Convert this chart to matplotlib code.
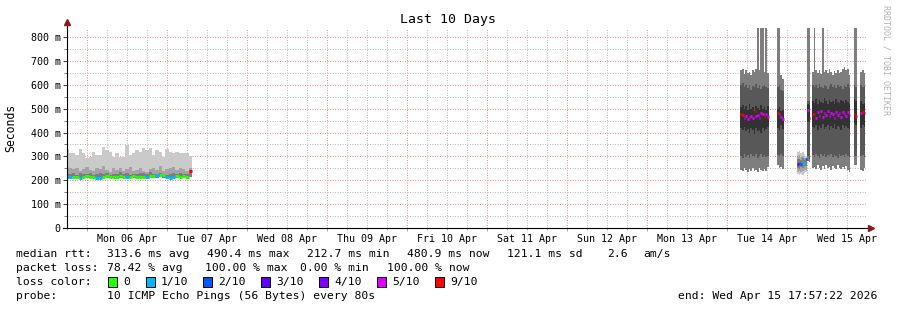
"""
SmokePing style latency graph, last 10 days.
Smoke bands = spread of the 10 pings, coloured line = median rtt by packet loss.
"""

import numpy as np
import matplotlib
matplotlib.use("Agg")
import matplotlib.pyplot as plt
import matplotlib.dates as mdates
from matplotlib.patches import Rectangle
from datetime import datetime, timedelta

nan = np.nan

# --- time frame ---
END = datetime(2026, 4, 15, 17, 57, 22)
START = END - timedelta(days=10)

# --- loss colours (smokeping defaults for 10 pings) ---
LOSS_KEYS = [0, 1, 2, 3, 4, 5, 9]
LOSS_LABELS = ["0", "1/10", "2/10", "3/10", "4/10", "5/10", "9/10"]
LOSS_COLORS = ["#26ff00", "#00b8ff", "#0059ff", "#5e00ff", "#7e00ff", "#dd00ff", "#ff0000"]

# ================================================================
# Data (ms).  Times are hours after START.
# ================================================================
# Block 1: Apr 05 evening -> Apr 07 morning, one value per hour
LEFT_T0, LEFT_STEP = -0.5, 1.0
LEFT_MAX = [331, 313, 316, 306, 329, 313, 292, 299, 320, 306, 306, 341, 327, 320, 299, 313, 299, 299, 348,
            306, 313, 327, 320, 334, 327, 334, 306, 327, 320, 299, 329, 320, 313, 320, 316, 316, 313, 300]
LEFT_P2 = [255, 250, 246, 252, 240, 248, 256, 244, 238, 250, 246, 258, 242, 236, 250, 244, 252, 240, 246,
           254, 238, 244, 250, 240, 236, 246, 252, 244, 258, 240, 248, 250, 256, 244, 250, 246, 240, 250]
LEFT_P3 = [228, 226, 230, 224, 232, 226, 228, 230, 224, 226, 232, 228, 230, 224, 226, 228, 234, 226, 230,
           224, 228, 226, 232, 230, 228, 234, 226, 228, 230, 226, 224, 228, 232, 226, 230, 228, 226, 245]
LEFT_MIN = [210, 211, 212, 210, 209, 211, 212, 211, 210, 208, 209, 211, 212, 211, 210, 212, 211, 210, 208,
            211, 212, 211, 210, 211, 209, 212, 211, 210, 212, 211, 209, 208, 210, 211, 212, 211, 212, 215]
LEFT_MED = [213, 212, 215, 214, 211, 215, 216, 215, 214, 211, 210, 215, 216, 215, 214, 215, 216, 215, 212,
            215, 216, 215, 214, 215, 213, 216, 217, 222, 222, 220, 212, 211, 212, 216, 215, 216, 215, 238]
LEFT_LOSS = [1, 1, 0, 0, 1, 0, 0, 0, 0, 1, 1, 0, 0, 0, 0, 0, 0, 0, 1,
             0, 0, 0, 0, 0, 1, 0, 0, 1, 0, 0, 1, 1, 1, 0, 0, 0, 0, 9]

# Low block late on Apr 14, half-hour values
MID_T0, MID_STEP = 219.0, 0.5
MID_MAX = [318, 322, 315, 320, 312, 300]
MID_P2_HI = [300, 305, 298, 302, 295, 290]
MID_P3_HI = [290, 288, 286, 292, 284, 282]
MID_P3_LO = [252, 248, 255, 250, 258, 260]
MID_P2_LO = [236, 240, 234, 238, 242, 245]
MID_MIN = [225, 222, 228, 224, 230, 235]
MID_MED = [270, 272, 270, 268, 272, 290]
MID_LOSS = [3, 2, 2, 1, 1, 2]

# Apr 14 / Apr 15 high-loss blocks, half-hour values (900 = above the graph)
RIGHT_T0, RIGHT_STEP = 202.0, 0.5
R_OUT_HI = [660, 668, 645, 662, 650, 655, 640, 660, 652, 665, 900, 660, 900, 900, 655, 900, 648,
            nan, nan, nan, nan, nan,
            900, 900, 640, 625,
            nan, nan, nan, nan, nan, nan, nan, nan, nan, nan, nan, nan, nan, nan,
            900, 900,
            nan,
            655, 900, 660, 650, 662, 645, 900, 652, 660, 648, 665, 655, 642, 658, 650, 662, 648, 655,
            668, 675, 660, 665, 640,
            nan, nan,
            900, 900,
            nan, nan,
            655, 660, 650,
            nan]
R_OUT_LO = [245, 238, 250, 242, 236, 248, 240, 252, 238, 244, 236, 250, 242, 238, 246, 240, 255,
            nan, nan, nan, nan, nan,
            262, 250, 255, 248,
            nan, nan, nan, nan, nan, nan, nan, nan, nan, nan, nan, nan, nan, nan,
            280, 276,
            nan,
            250, 255, 246, 262, 252, 244, 258, 248, 265, 250, 256, 245, 260, 252, 248, 262, 250, 246,
            255, 248, 258, 244, 236,
            nan, nan,
            265, 262,
            nan, nan,
            245, 240, 250,
            nan]
R_MID_HI = [600, 606, 592, 598, 585, 600, 580, 596, 590, 604, 588, 598, 584, 594, 600, 590, 586,
            nan, nan, nan, nan, nan,
            590, 600, 580, 575,
            nan, nan, nan, nan, nan, nan, nan, nan, nan, nan, nan, nan, nan, nan,
            530, 530,
            nan,
            600, 590, 598, 585, 604, 592, 588, 600, 596, 582, 594, 605, 590, 598, 586, 600, 592, 595,
            584, 598, 590, 602, 588,
            nan, nan,
            600, 590,
            nan, nan,
            600, 590, 595,
            nan]
R_MID_LO = [300, 295, 310, 298, 305, 292, 312, 300, 296, 308, 294, 302, 310, 298, 304, 296, 300,
            nan, nan, nan, nan, nan,
            305, 300, 310, 300,
            nan, nan, nan, nan, nan, nan, nan, nan, nan, nan, nan, nan, nan, nan,
            300, 290,
            nan,
            305, 298, 310, 300, 295, 312, 302, 308, 296, 304, 300, 310, 298, 306, 302, 295, 308, 300,
            304, 298, 310, 300, 296,
            nan, nan,
            300, 300,
            nan, nan,
            300, 305, 298,
            nan]
R_IN_HI = [505, 515, 498, 510, 495, 520, 500, 508, 490, 512, 502, 496, 515, 500, 506, 494, 510,
           nan, nan, nan, nan, nan,
           500, 505, 490, 495,
           nan, nan, nan, nan, nan, nan, nan, nan, nan, nan, nan, nan, nan, nan,
           520, 515,
           nan,
           530, 525, 540, 520, 535, 528, 522, 545, 530, 518, 538, 526, 532, 520, 540, 528, 524, 535,
           530, 522, 538, 528, 520,
           nan, nan,
           540, 530,
           nan, nan,
           530, 520, 525,
           nan]
R_IN_LO = [420, 410, 425, 405, 415, 400, 420, 410, 395, 418, 405, 412, 400, 420, 408, 415, 425,
           nan, nan, nan, nan, nan,
           420, 410, 430, 415,
           nan, nan, nan, nan, nan, nan, nan, nan, nan, nan, nan, nan, nan, nan,
           445, 450,
           nan,
           425, 418, 432, 410, 428, 420, 436, 415, 424, 430, 412, 426, 420, 434, 416, 428, 422, 410,
           430, 420, 426, 418, 415,
           nan, nan,
           440, 430,
           nan, nan,
           420, 430, 425,
           nan]
R_MED = [478, 472, 462, 468, 458, 466, 470, 460, 492, 468, 474, 462, 480, 476, 470, 478, 466,
         nan, nan, nan, nan, nan,
         480, 476, 466, 456,
         nan, nan, nan, nan, nan, nan, nan, nan, nan, nan, nan, nan, nan, nan,
         496, 460,
         nan,
         476, 478, 462, 484, 470, 488, 464, 480, 472, 490, 468, 482, 476, 460, 486, 474, 480, 466,
         484, 478, 470, 486, 472,
         nan, nan,
         478, 470,
         nan, nan,
         480, 485, 482,
         nan]
R_LOSS = [9, 9, 5, 5, 5, 5, 5, 5, 9, 5, 5, 5, 5, 5, 9, 5, 5,
          nan, nan, nan, nan, nan,
          9, 5, 5, 5,
          nan, nan, nan, nan, nan, nan, nan, nan, nan, nan, nan, nan, nan, nan,
          5, 9,
          nan,
          9, 9, 5, 5, 5, 5, 5, 5, 5, 5, 5, 5, 5, 5, 5, 5, 5, 5,
          5, 5, 5, 5, 5,
          nan, nan,
          9, 9,
          nan, nan,
          5, 9, 9,
          nan]

# ================================================================
# Figure
# ================================================================
plt.rcParams["font.family"] = "DejaVu Sans Mono"

W, H = 897, 310
fig = plt.figure(figsize=(W / 100, H / 100), dpi=100)
fig.patch.set_facecolor("white")
ax = fig.add_axes([67 / W, 82 / H, 800 / W, 200 / H])

X0 = mdates.date2num(START)


def hx(hours):
    return X0 + np.asarray(hours, dtype=float) / 24.0


def smoke(t0, step, lo, hi, color):
    # one filled step area per run of valid values
    lo = np.asarray(lo, dtype=float)
    hi = np.asarray(hi, dtype=float)
    edges = hx(t0 + step * np.arange(len(hi) + 1))
    ok = ~np.isnan(lo) & ~np.isnan(hi)
    i = 0
    while i < len(hi):
        if not ok[i]:
            i += 1
            continue
        j = i
        while j < len(hi) and ok[j]:
            j += 1
        ax.fill_between(edges[i:j + 1], np.r_[lo[i:j], lo[j - 1]], np.r_[hi[i:j], hi[j - 1]],
                        step="post", color=color, linewidth=0, zorder=1)
        i = j


def median(t0, step, med, loss, lw):
    med = np.asarray(med, dtype=float)
    loss = np.asarray(loss, dtype=float)
    t = hx(t0 + step * np.arange(len(med)))
    for key, col in zip(LOSS_KEYS, LOSS_COLORS):
        sel = (loss == key) & ~np.isnan(med)
        if sel.any():
            ax.hlines(med[sel], t[sel], t[sel] + step / 24.0, colors=col, linewidth=lw, zorder=2)


# left block
smoke(LEFT_T0, LEFT_STEP, LEFT_MIN, LEFT_MAX, "#cacaca")
smoke(LEFT_T0, LEFT_STEP, LEFT_MIN, LEFT_P2, "#a4a4a4")
smoke(LEFT_T0, LEFT_STEP, LEFT_MIN, LEFT_P3, "#7e7e7e")
median(LEFT_T0, LEFT_STEP, LEFT_MED, LEFT_LOSS, 2.2)

# low block
smoke(MID_T0, MID_STEP, MID_MIN, MID_MAX, "#cacaca")
smoke(MID_T0, MID_STEP, MID_P2_LO, MID_P2_HI, "#a4a4a4")
smoke(MID_T0, MID_STEP, MID_P3_LO, MID_P3_HI, "#7e7e7e")
median(MID_T0, MID_STEP, MID_MED, MID_LOSS, 2.0)

# high-loss blocks
smoke(RIGHT_T0, RIGHT_STEP, R_OUT_LO, R_OUT_HI, "#7e7e7e")
smoke(RIGHT_T0, RIGHT_STEP, R_MID_LO, R_MID_HI, "#585858")
smoke(RIGHT_T0, RIGHT_STEP, R_IN_LO, R_IN_HI, "#323232")
median(RIGHT_T0, RIGHT_STEP, R_MED, R_LOSS, 2.0)

# --- axes ---
ax.set_xlim(X0, mdates.date2num(END))
ax.set_ylim(0, 837.7)
for s in ax.spines.values():
    s.set_visible(False)

ax.xaxis.set_major_locator(mdates.DayLocator())
ax.xaxis.set_minor_locator(mdates.HourLocator(byhour=[6, 12, 18]))
ax.xaxis.set_major_formatter(plt.NullFormatter())


def day_label(x, pos):
    hour = int(round((x % 1) * 24)) % 24
    if hour != 12:
        return ""
    return mdates.num2date(x).strftime("%a %d %b")


ax.xaxis.set_minor_formatter(plt.FuncFormatter(day_label))
ax.yaxis.set_major_locator(plt.MultipleLocator(100))
ax.yaxis.set_minor_locator(plt.MultipleLocator(50))
ax.yaxis.set_major_formatter(plt.FuncFormatter(lambda v, _: "0" if v == 0 else f"{v:.0f} m"))

# dotted grid behind the smoke
ax.set_axisbelow(True)
ax.grid(True, which="major", color="#f29090", linestyle=(0, (1, 1.5)), linewidth=0.72)
ax.grid(True, which="minor", color="#bcbcbc", linestyle=(0, (1, 1.5)), linewidth=0.72)

ax.tick_params(axis="x", which="major", direction="out", length=2, color="#ff8080", width=0.75)
ax.tick_params(axis="x", which="minor", direction="out", length=1.5, color="#b0b0b0", width=0.75,
               labelsize=7.2, pad=3)
ax.tick_params(axis="y", which="major", direction="out", length=3, color="#404040", width=0.75,
               labelsize=7.2, pad=1.5)
ax.tick_params(axis="y", which="minor", direction="out", length=2, color="#808080", width=0.75)

# axis lines with arrows
ax.plot([0, 0], [0, 1.025], transform=ax.transAxes, color="black", lw=0.8, clip_on=False, zorder=4)
ax.plot([-0.005, 1.004], [0, 0], transform=ax.transAxes, color="black", lw=0.8, clip_on=False, zorder=4)
ax.plot([0], [1.03], marker="^", ms=4, color="#8b1a1a", transform=ax.transAxes, clip_on=False, zorder=5)
ax.plot([1.0056], [0], marker=">", ms=4, color="#8b1a1a", transform=ax.transAxes, clip_on=False, zorder=5)

ax.set_ylabel("Seconds", fontsize=8.3)
ax.yaxis.set_label_coords(-50 / 800, 0.5)


# --- title, watermark, legend (placed in pixel units) ---
def ftext(x, y, s, **kw):
    kw.setdefault("fontsize", 8.2)
    kw.setdefault("va", "center")
    fig.text(x / W, 1 - y / H, s, **kw)


ftext(448, 19, "Last 10 Days", ha="center", fontsize=9.5)
ftext(886, 60, "RRDTOOL / TOBI OETIKER", ha="center", rotation=270, color="#b4b4b4", fontsize=6)

ftext(16, 254, "median rtt:")
for x, s in zip([107, 207, 307, 407, 507, 607, 643],
                ["313.6 ms avg", "490.4 ms max", "212.7 ms min", "480.9 ms now", "121.1 ms sd", "2.6", "am/s"]):
    ftext(x, 254, s)

ftext(16, 268, "packet loss:")
for x, s in zip([107, 205, 300, 387], ["78.42 % avg", "100.00 % max", "0.00 % min", "100.00 % now"]):
    ftext(x, 268, s)

ftext(16, 282, "loss color:")
box_x = [108, 146, 203, 261, 319, 377, 435]
for bx, lab, col in zip(box_x, LOSS_LABELS, LOSS_COLORS):
    fig.add_artist(Rectangle((bx / W, 1 - 287 / H), 9 / W, 10 / H, transform=fig.transFigure,
                             facecolor=col, edgecolor="black", linewidth=0.7))
    ftext(bx + 15, 282, lab)

ftext(16, 296, "probe:")
ftext(107, 296, "10 ICMP Echo Pings (56 Bytes) every 80s")
ftext(678, 296, "end: Wed Apr 15 17:57:22 2026")

fig.savefig("out.png", dpi=100)
